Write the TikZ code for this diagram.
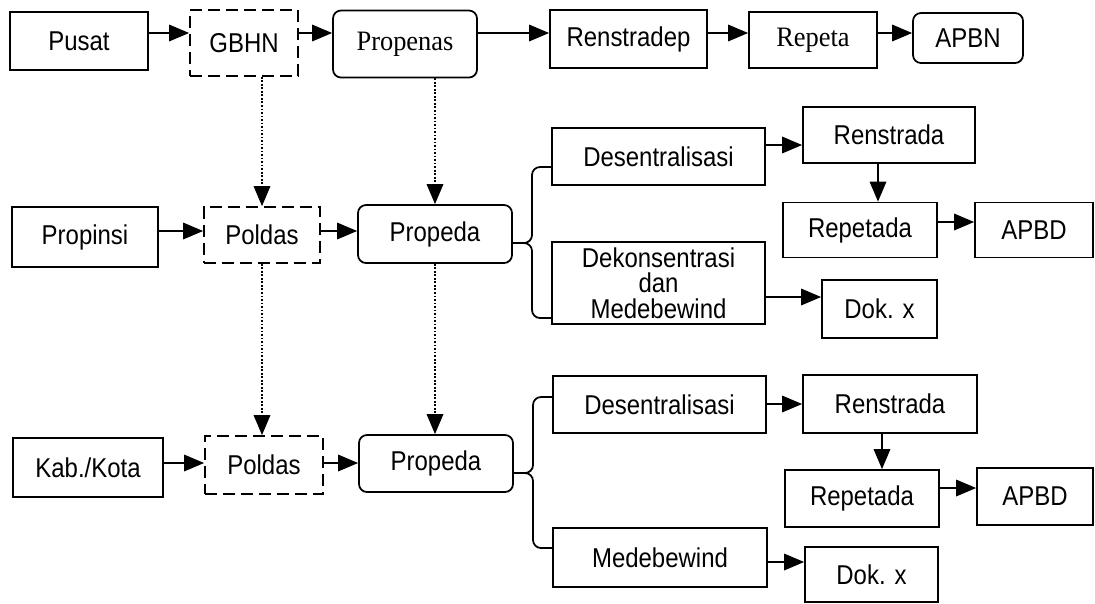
\documentclass[tikz,border=0pt]{standalone}
\usepackage{fontspec}
\setmainfont{Liberation Sans}[FakeStretch=0.88]
\newfontfamily\serifnm{Liberation Serif}[FakeStretch=0.94]
\usetikzlibrary{arrows.meta}

\tikzset{
  wh/.style 2 args={minimum width=#1*0.02cm, minimum height=#2*0.02cm},
  box/.style={draw, line width=1pt, inner sep=0pt, align=center,
              font=\fontsize{15.5}{14.6}\selectfont},
  dashbox/.style={box, dash pattern=on 0.24cm off 0.12cm},
  roundbox/.style={box, rounded corners=0.16cm},
  serifbox/.style={font=\serifnm\fontsize{16}{17}\selectfont},
  arr/.style={line width=1pt, -{Triangle[length=0.4cm, width=0.33cm]}},
  dotarr/.style={line width=1pt, densely dotted, -{Triangle[length=0.4cm, width=0.33cm]}},
  brace/.style={line width=1pt, rounded corners=0.16cm}
}

\begin{document}
\begin{tikzpicture}[x=0.02cm, y=-0.02cm]
  \useasboundingbox (0,0) rectangle (1095,603);

  % pusat
  \node[box, wh={138}{58}] (pusat) at (79,41) {Pusat};
  \node[dashbox, wh={108}{66}] (gbhn) at (244,43) {GBHN};
  \node[roundbox, serifbox, wh={144}{67}] (propenas) at (405,44) {Propenas};
  \node[box, wh={157}{58}] (renstradep) at (628.5,39) {Renstradep};
  \node[box, serifbox, wh={128}{56}] (repeta) at (813,40) {Repeta};
  \node[roundbox, wh={110}{50}] (apbn) at (968,38) {APBN};

  \draw[arr] (pusat.east |- 0,33) -- (gbhn.west |- 0,33);
  \draw[arr] (gbhn.east |- 0,33) -- (propenas.west |- 0,33);
  \draw[arr] (propenas.east |- 0,33) -- (renstradep.west |- 0,33);
  \draw[arr] (renstradep.east |- 0,33) -- (repeta.west |- 0,33);
  \draw[arr] (repeta.east |- 0,33) -- (apbn.west |- 0,33);

  % propinsi
  \node[box, wh={146}{60}] (propinsi) at (85,237) {Propinsi};
  \node[dashbox, wh={116}{56}] (poldasA) at (262,235) {Poldas};
  \node[roundbox, wh={154}{58}] (propedaA) at (435,234) {Propeda};

  \draw[arr] (propinsi.east |- 0,231) -- (poldasA.west |- 0,231);
  \draw[arr] (poldasA.east |- 0,231) -- (propedaA.west |- 0,231);

  \node[box, wh={213}{57}] (desenA) at (658.5,156.5) {Desentralisasi};
  \node[box, wh={172}{56}] (renA) at (889,135) {Renstrada};
  \node[box, wh={154}{55}] (repA) at (860,230) {Repetada};
  \node[box, wh={118}{55}] (apbdA) at (1034,230) {APBD};
  \node[box, wh={213}{82}] (dekonA) at (658.5,283) {Dekonsentrasi\\dan\\Medebewind};
  \node[box, wh={115}{58}] (dokA) at (879.5,309) {Dok. x};

  \draw[arr] (desenA.east |- 0,145) -- (renA.west |- 0,145);
  \draw[arr] (renA.south -| 878,0) -- (repA.north -| 878,0);
  \draw[arr] (repA.east |- 0,222) -- (apbdA.west |- 0,222);
  \draw[arr] (dekonA.east |- 0,297) -- (dokA.west |- 0,297);

  \draw[brace] (desenA.west |- 0,167) -| (532,243) -- (propedaA.east |- 0,243);
  \draw[brace] (propedaA.east |- 0,243) -- (532,243) |- (dekonA.west |- 0,318);

  % kabupaten / kota
  \node[box, wh={150}{59}] (kabkota) at (88,467.5) {Kab./Kota};
  \node[dashbox, wh={118}{58}] (poldasB) at (264,465) {Poldas};
  \node[roundbox, wh={154}{57}] (propedaB) at (436,463.5) {Propeda};

  \draw[arr] (kabkota.east |- 0,463) -- (poldasB.west |- 0,463);
  \draw[arr] (poldasB.east |- 0,463) -- (propedaB.west |- 0,463);

  \node[box, wh={213}{57}] (desenB) at (659.5,404.5) {Desentralisasi};
  \node[box, wh={174}{58}] (renB) at (890,404) {Renstrada};
  \node[box, wh={154}{57}] (repB) at (862,498.5) {Repetada};
  \node[box, wh={116}{57}] (apbdB) at (1035,496.5) {APBD};
  \node[box, wh={214}{59}] (medeB) at (660,557.5) {Medebewind};
  \node[box, wh={133}{55}] (dokB) at (871.5,574.5) {Dok. x};

  \draw[arr] (desenB.east |- 0,404) -- (renB.west |- 0,404);
  \draw[arr] (renB.south -| 882,0) -- (repB.north -| 882,0);
  \draw[arr] (repB.east |- 0,488) -- (apbdB.west |- 0,488);
  \draw[arr] (medeB.east |- 0,562) -- (dokB.west |- 0,562);

  \draw[brace] (desenB.west |- 0,397) -| (533,473) -- (propedaB.east |- 0,473);
  \draw[brace] (propedaB.east |- 0,473) -- (533,473) |- (medeB.west |- 0,548);

  % garis titik-titik antar tingkat
  \draw[dotarr] (gbhn.south -| poldasA) -- (poldasA.north);
  \draw[dotarr] (propenas.south -| propedaA) -- (propedaA.north);
  \draw[dotarr] (poldasA.south) -- (poldasA.south |- poldasB.north);
  \draw[dotarr] (propedaA.south) -- (propedaA.south |- propedaB.north);
\end{tikzpicture}
\end{document}
